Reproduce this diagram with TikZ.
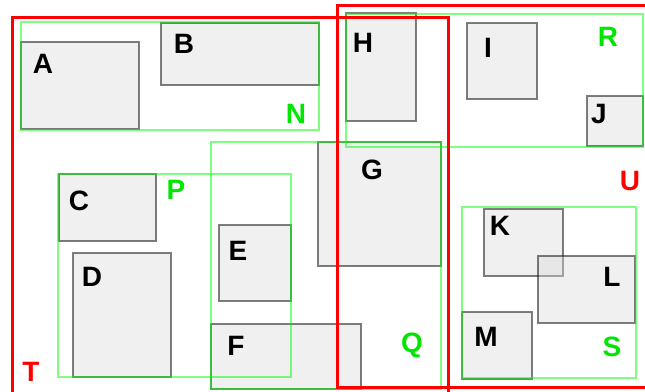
\documentclass[tikz,border=0pt]{standalone}
\usepackage{fontspec}
\setmainfont{Liberation Sans}
\definecolor{lime}{HTML}{00E600}
\definecolor{setred}{HTML}{FF0000}
\tikzset{box/.style={draw=black,draw opacity=.5,fill=black!15,fill opacity=.4,line width=2.6pt},
grp/.style={draw=green,draw opacity=.5,line width=1.5pt},
outer/.style={draw=setred,line width=3pt},
lab/.style={font=\fontsize{28}{28}\selectfont\bfseries,inner sep=0pt,anchor=base}}

\begin{document}
\begin{tikzpicture}[x=1pt,y=-1pt]
\useasboundingbox (0,0) rectangle (645,391);
\clip (0,0) rectangle (645,391);
% grey boxes
\foreach \n/\xa/\ya/\xb/\yb in {A/21/42/139/129,B/161/23/319/85,C/59/174/156/241,
  D/73/253/171/377,E/219/225/291/301,F/211/324/361/389,G/318/142/441/266,
  H/346/13/416/121,I/467/23/537/99,J/587/96/643/146,K/484/209/563/276,
  L/538/256/635/323,M/462/312/532/379}{
  \draw[box] (\xa,\ya) rectangle (\xb,\yb);
}
% green groups
\foreach \n/\xa/\ya/\xb/\yb in {N/21/22/319/130,P/58/174/291/377,Q/211/142/441/389,
  R/346/14/643/147,S/462/207/636/378}{
  \draw[grp] (\xa,\ya) rectangle (\xb,\yb);
}
% red groups
\draw[outer] (12,17) rectangle (448,400);
\draw[outer] (337,5) rectangle (660,387);
% labels
\foreach \n/\x/\y in {A/43/73,B/184/53,C/79/210,D/92/286,E/238/260,F/236/355,
  G/372/179,H/363/52,I/488/57,J/599/123,K/500/235,L/612/286,M/486/346}
  \node[lab] (l\n) at (\x,\y) {\n};
\foreach \n/\x/\y in {N/296/123,P/176/199,Q/412/352,R/608/46,S/612/356}
  \node[lab,text=lime] (l\n) at (\x,\y) {\n};
\node[lab,text=setred] (lT) at (31,381) {T};
\node[lab,text=setred] (lU) at (630,190) {U};
\end{tikzpicture}
\end{document}
